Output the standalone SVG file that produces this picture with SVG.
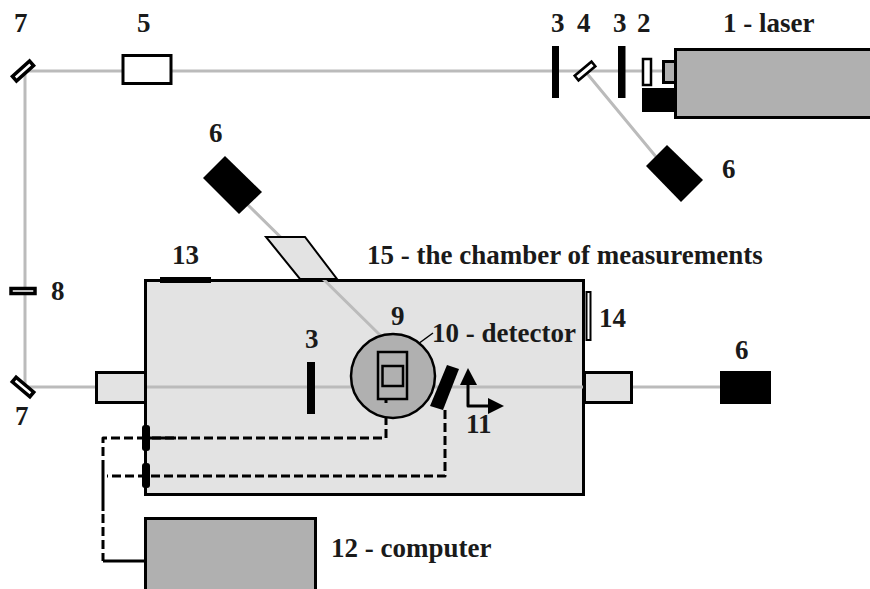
<svg xmlns="http://www.w3.org/2000/svg" width="870" height="589" viewBox="0 0 870 589">
<style>
text{font-family:"Liberation Serif","Times New Roman",serif;font-weight:bold;font-size:27px;fill:#1a1a1a}
.beam{fill:none;stroke:#bbb;stroke-width:3}
.box{stroke:#000;stroke-width:3}
.blk{fill:#000;stroke:none}
.wire{fill:none;stroke:#000;stroke-width:3;stroke-linejoin:round}
.dash{stroke-dasharray:9 4}
.lt{fill:#e3e3e3}.dk{fill:#b0b0b0}.wh{fill:#fff}
</style>
<defs>
<marker id="as" markerUnits="userSpaceOnUse" markerWidth="10" markerHeight="10" refX="8" refY="4" orient="auto"><path d="M0 0L8 4L0 8Z" fill="#000"/></marker>
</defs>
<rect width="870" height="589" fill="#fff"/>
<g id="chamber"><rect class="box lt" x="145.500" y="280.500" width="438" height="214"/></g>
<g id="connectors">
<path class="beam" d="M23 71H675M25 71V387H720M585 71L657 158M246 203L381 336"/>
<path class="wire dash" d="M386 403V438H150"/>
<path class="wire" d="M176 438H146"/>
<path class="wire dash" d="M445 410V476H107"/>
<path class="wire dash" d="M146 438H103V458"/>
<path class="wire" d="M103 460V511"/>
<path class="wire dash" d="M103 514V561"/>
<path class="wire" d="M103 561H146"/>
<path d="M433 333L407 352" fill="none" stroke="#000" stroke-width="1.500" marker-end="url(#as)"/>
</g>
<g id="n7a"><rect class="wh" x="11.500" y="68" width="23" height="6" stroke="#000" stroke-width="3.500" transform="rotate(-42 23 71)"/><text x="14" y="32">7</text></g>
<g id="n5"><rect class="box wh" x="123" y="55.500" width="48" height="28"/><text x="137" y="32">5</text></g>
<g id="n3a"><rect class="blk" x="552" y="46" width="7" height="52"/><text x="551" y="32">3</text></g>
<g id="n4"><rect class="wh" x="574" y="68" width="22" height="6" stroke="#000" stroke-width="2.500" transform="rotate(-40 585 71)"/><text x="577" y="32">4</text></g>
<g id="n3b"><rect class="blk" x="618" y="46" width="7.500" height="52"/><text x="613" y="32">3</text></g>
<g id="n2"><rect class="wh" x="643" y="59" width="8" height="26" stroke="#000" stroke-width="2.500"/><rect class="blk" x="642" y="88" width="35" height="24"/><rect class="dk" x="663.500" y="61.500" width="12" height="21" stroke="#000" stroke-width="3"/><text x="637" y="32">2</text></g>
<g id="n1"><rect class="box dk" x="675.500" y="49.500" width="197" height="68"/><text x="723" y="32">1 - laser</text></g>
<g id="n6a"><path class="blk" d="M667 145L703 180L681 202L646 166Z"/><text x="722" y="178">6</text></g>
<g id="n6b"><path class="blk" d="M225 156L262 192L239 214L203 178Z"/><text x="209" y="142">6</text></g>
<g id="window"><path class="lt" d="M266 237H305L337 279H300Z" stroke="#000" stroke-width="2"/></g>
<g id="n15"><text x="367" y="264">15 - the chamber of measurements</text></g>
<g id="n13"><rect class="blk" x="160" y="277" width="51" height="6"/><text x="172" y="264">13</text></g>
<g id="n14"><rect class="wh" x="586.500" y="292" width="4" height="48" stroke="#000" stroke-width="2"/><text x="599" y="327">14</text></g>
<g id="n8"><rect class="wh" x="11" y="288.500" width="24" height="5" stroke="#000" stroke-width="3.500"/><text x="51" y="300">8</text></g>
<g id="n7b"><rect class="wh" x="11.500" y="384" width="23" height="6" stroke="#000" stroke-width="3.500" transform="rotate(40 23 387)"/><text x="15" y="425">7</text></g>
<g id="portL"><rect class="box lt" x="96.500" y="372.500" width="49" height="30"/></g>
<g id="portR"><rect class="box lt" x="584.500" y="372.500" width="47" height="30"/></g>
<g id="n6c"><rect class="blk" x="720" y="371" width="51" height="33"/><text x="735" y="359">6</text></g>
<g id="n3c"><rect class="blk" x="307" y="362" width="8" height="52"/><text x="305" y="348">3</text></g>
<g id="n9"><circle class="dk" cx="393" cy="376" r="42" stroke="#000" stroke-width="2.500"/><text x="391" y="325">9</text></g>
<g id="n10"><rect x="378" y="352" width="29" height="47" fill="none" stroke="#000" stroke-width="2.500"/><rect class="dk" x="382.500" y="366" width="20.500" height="20" stroke="#000" stroke-width="2.500"/><path d="M386 399V403" stroke="#000" stroke-width="3"/><text x="432" y="342">10 - detector</text></g>
<g id="n11"><path class="blk" d="M447 365L459 369L443 410L430 406Z"/><path class="wire" d="M468 384V406H490"/><path d="M468 368L477 385H460Z" fill="#000"/><path d="M504 406L488 398V414Z" fill="#000"/><text x="466" y="433">11</text></g>
<g id="ports"><rect class="blk" x="142" y="425" width="8" height="26" rx="3"/><rect class="blk" x="142" y="463" width="8" height="25" rx="3"/></g>
<g id="n12"><rect class="box dk" x="145.500" y="518.500" width="170" height="72"/><text x="331" y="557">12 - computer</text></g>
</svg>
